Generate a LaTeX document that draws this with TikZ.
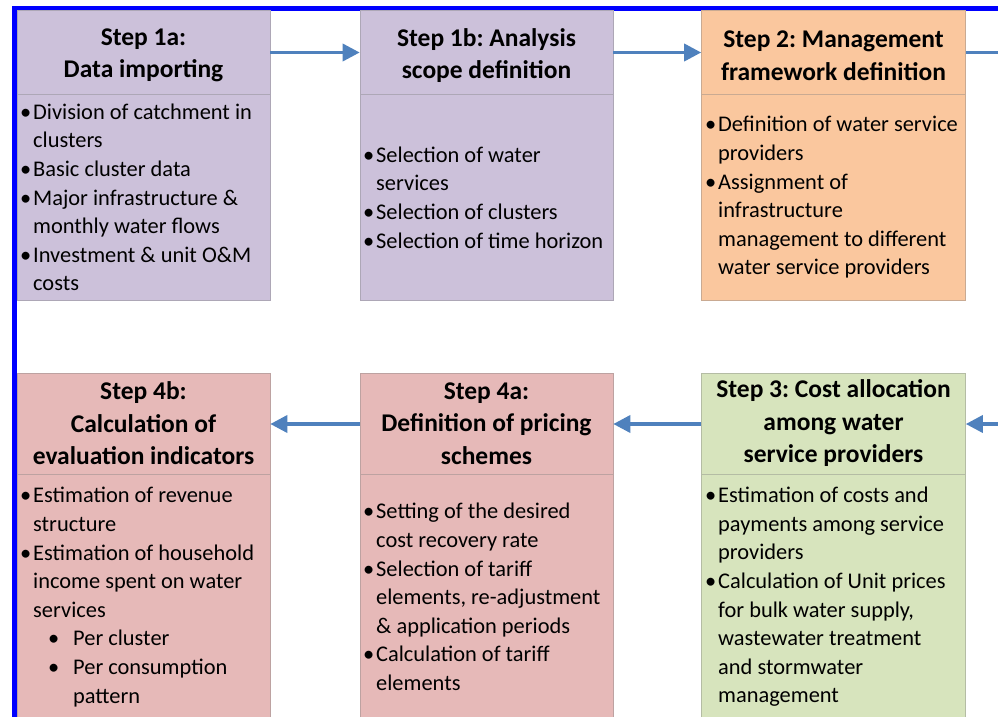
\documentclass[tikz,border=0pt]{standalone}
\usepackage{fontspec}
\setmainfont{Carlito}
\usetikzlibrary{arrows.meta}
\definecolor{lav}{HTML}{CCC1DA}
\definecolor{peach}{HTML}{FAC79E}
\definecolor{rose}{HTML}{E6B9B8}
\definecolor{olive}{HTML}{D7E4BD}
\definecolor{arrowblue}{HTML}{4F81BD}
\newcommand{\bl}{\makebox[13pt][l]{\textbullet}}
\newcommand{\ct}{\hspace*{13pt}}
\newcommand{\sbl}{\hspace*{28pt}\makebox[25pt][l]{\textbullet}}
\newcommand{\sct}{\hspace*{53pt}}
\frenchspacing
\tikzset{
  hdr/.style={draw=#1!75!black!80, line width=0.6pt, fill=#1, inner sep=0pt},
  hdrtxt/.style={inner sep=0pt, align=center,
    font=\fontsize{25.5}{32.5}\selectfont\bfseries},
  bdy/.style={draw=#1!75!black!80, line width=0.6pt, fill=#1, inner sep=0pt},
  txt/.style={anchor=west, inner sep=0pt, align=left,
    font=\fontsize{22.4}{28.6}\selectfont},
  flow/.style={draw=arrowblue, line width=3.5pt, -{Triangle[length=17pt,width=17pt]}},
  flowplain/.style={draw=arrowblue, line width=3.5pt}
}
\begin{document}
\begin{tikzpicture}[x=1pt,y=-1pt]
\clip (0,0) rectangle (998,717);
\fill[white] (0,0) rectangle (998,717);
% border lines
\fill[blue] (12,6) rectangle (998,11);
\fill[blue] (12,6) rectangle (17,717);

% top row
\node[hdr=lav, minimum width=253pt, minimum height=84pt] (h1a) at (143.5,52.5) {};
\node[hdrtxt, yshift=-3pt] (l1a) at (h1a.center) {Step 1a:\\Data importing};
\node[bdy=lav, minimum width=253pt, minimum height=206pt] (b1a) at (143.5,197.5) {};
\node[txt] (t1a) at (20,197.5) {\bl Division of catchment in\\\ct clusters\\\bl Basic cluster data\\\bl Major infrastructure \&\\\ct monthly water flows\\\bl Investment \& unit O\&M\\\ct costs};

\node[hdr=lav, minimum width=253pt, minimum height=84pt] (h1b) at (486.5,52.5) {};
\node[hdrtxt, yshift=-3pt] (l1b) at (h1b.center) {Step 1b: Analysis\\scope definition};
\node[bdy=lav, minimum width=253pt, minimum height=206pt] (b1b) at (486.5,197.5) {};
\node[txt] (t1b) at (363,197.5) {\bl Selection of water\\\ct services\\\bl Selection of clusters\\\bl Selection of time horizon};

\node[hdr=peach, minimum width=264pt, minimum height=84pt] (h2) at (833.5,52.5) {};
\node[hdrtxt, yshift=-3pt] (l2) at (h2.center) {Step 2: Management\\framework definition};
\node[bdy=peach, minimum width=264pt, minimum height=206pt] (b2) at (833.5,197.5) {};
\node[txt] (t2) at (705,197.5) {\bl Definition of water service\\\ct providers\\\bl Assignment of\\\ct infrastructure\\\ct management to different\\\ct water service providers};

% bottom row
\node[hdr=rose, minimum width=253pt, minimum height=101pt] (h4b) at (143.5,423.5) {};
\node[hdrtxt] (l4b) at (h4b.center) {Step 4b:\\Calculation of\\evaluation indicators};
\node[bdy=rose, minimum width=253pt, minimum height=246pt] (b4b) at (143.5,597) {};
\node[txt] (t4b) at (20,597) {\bl Estimation of revenue\\\ct structure\\\bl Estimation of household\\\ct income spent on water\\\ct services\\\sbl Per cluster\\\sbl Per consumption\\\sct pattern};

\node[hdr=rose, minimum width=253pt, minimum height=101pt] (h4a) at (486.5,423.5) {};
\node[hdrtxt] (l4a) at (h4a.center) {Step 4a:\\Definition of pricing\\schemes};
\node[bdy=rose, minimum width=253pt, minimum height=246pt] (b4a) at (486.5,597) {};
\node[txt] (t4a) at (363,597) {\bl Setting of the desired\\\ct cost recovery rate\\\bl Selection of tariff\\\ct elements, re-adjustment\\\ct \& application periods\\\bl Calculation of tariff\\\ct elements};

\node[hdr=olive, minimum width=264pt, minimum height=101pt] (h3) at (833.5,423.5) {};
\node[hdrtxt] (l3) at (h3.center) {Step 3: Cost allocation\\among water\\service providers};
\node[bdy=olive, minimum width=264pt, minimum height=246pt] (b3) at (833.5,597) {};
\node[txt] (t3) at (705,597) {\bl Estimation of costs and\\\ct payments among service\\\ct providers\\\bl Calculation of Unit prices\\\ct for bulk water supply,\\\ct wastewater treatment\\\ct and stormwater\\\ct management};

% connectors
\coordinate (outtop) at (1010,52.5);
\coordinate (outbot) at (1010,424);
\draw[flow] (h1a.east) -- (h1b.west);
\draw[flow] (h1b.east) -- (h2.west);
\draw[flowplain] (h2.east) -- (outtop);
\draw[flow] (outbot) -- (h3.east |- outbot);
\draw[flow] (h3.west |- outbot) -- (h4a.east |- outbot);
\draw[flow] (h4a.west |- outbot) -- (h4b.east |- outbot);
\end{tikzpicture}
\end{document}
